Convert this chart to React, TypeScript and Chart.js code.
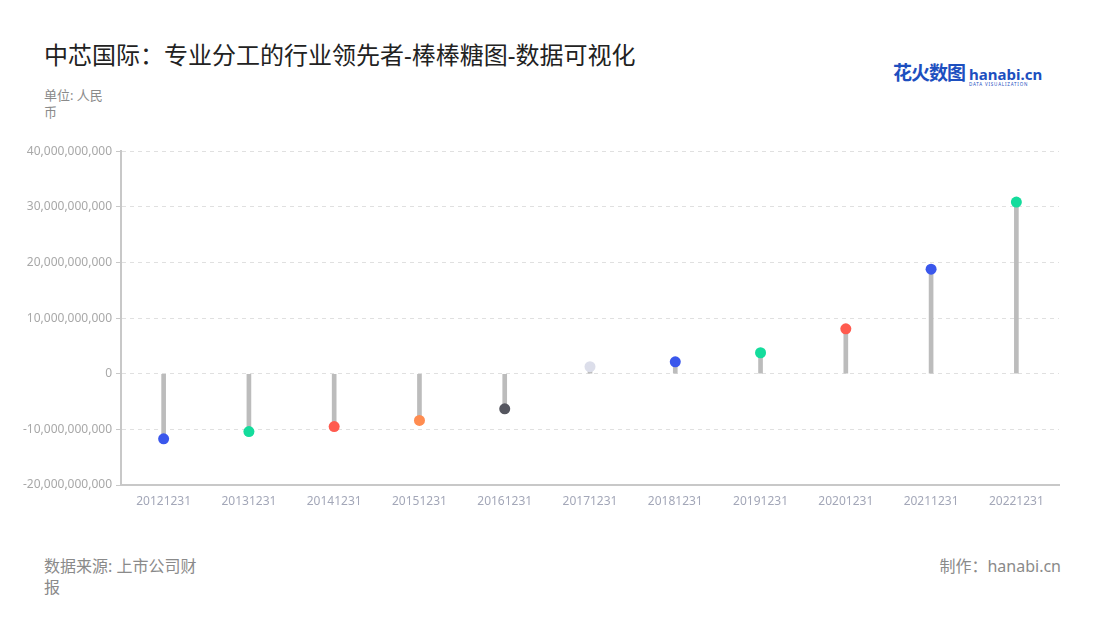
import React, { useEffect, useRef } from "react";
import { Chart, registerables } from "chart.js";

Chart.register(...registerables);

const categories = ["20121231", "20131231", "20141231", "20151231", "20161231", "20171231", "20181231", "20191231", "20201231", "20211231", "20221231"];
const values = [-11700000000, -10400000000, -9500000000, -8400000000, -6300000000, 1260000000, 2150000000, 3770000000, 8070000000, 18800000000, 30850000000];
const dotColors = ["#3a57ec", "#14dc9c", "#ff5b4f", "#ff8c50", "#55565f", "#dcdeea", "#3a57ec", "#14dc9c", "#ff5b4f", "#3a57ec", "#14dc9c"];
const yTicks = [-20000000000, -10000000000, 0, 10000000000, 20000000000, 30000000000, 40000000000];

const FONT = "'Noto Sans', 'Noto Sans CJK SC', sans-serif";

export default function App() {
  const ref = useRef<HTMLCanvasElement>(null);
  useEffect(() => {
    document.body.style.margin = "0";
    const ctx = ref.current!;
    const chart = new Chart(ctx, {
      type: "bar",
      data: {
        labels: categories,
        datasets: [
          {
            type: "line",
            data: values,
            showLine: false,
            pointRadius: 5.5,
            pointHoverRadius: 5.5,
            pointBorderWidth: 0,
            pointBackgroundColor: dotColors,
            pointBorderColor: dotColors,
            order: 0,
          } as any,
          {
            type: "bar",
            data: values,
            backgroundColor: "#bcbcbc",
            barThickness: 4,
            order: 1,
          },
        ],
      },
      options: {
        animation: false,
        responsive: false,
        maintainAspectRatio: false,
        layout: { padding: { top: 10, right: 41, bottom: 0, left: 0 } },
        plugins: { legend: { display: false }, tooltip: { enabled: false } },
        scales: {
          x: {
            offset: true,
            grid: { display: false, drawTicks: true, tickLength: 5, color: "#cccccc" } as any,
            border: { display: true, color: "#c8c8c8", width: 2 },
            ticks: { color: "#a3a7b8", font: { family: FONT, size: 12 }, padding: 4, maxRotation: 0, autoSkip: false },
            afterFit: (s: any) => { s.height = 35; },
          },
          y: {
            min: -20000000000,
            max: 40000000000,
            afterBuildTicks: (s: any) => { s.ticks = yTicks.map((v) => ({ value: v })); },
            grid: {
              color: "#e0e0e0",
              tickLength: 5,
              tickColor: "#c8c8c8",
              drawTicks: true,
            } as any,
            border: { display: true, color: "#c8c8c8", width: 2, dash: [4, 4] } as any,
            ticks: {
              color: "#a8a8a8",
              font: { family: FONT, size: 12 },
              padding: 4,
              callback: (v: any) => Number(v).toLocaleString("en-US"),
            },
            afterFit: (s: any) => { s.width = 121; },
          },
        },
      },
    });
    return () => chart.destroy();
  }, []);

  return (
    <div style={{ position: "relative", width: 1100, height: 620, background: "#fff", fontFamily: FONT, overflow: "hidden" }}>
      <div style={{ position: "absolute", left: 44, top: 38, fontSize: 24, lineHeight: "34px", color: "#222", whiteSpace: "nowrap" }}>
        中芯国际：专业分工的行业领先者-棒棒糖图-数据可视化
      </div>
      <div style={{ position: "absolute", left: 44, top: 87, width: 70, fontSize: 13, lineHeight: "17px", color: "#8a8a8a" }}>
        单位: 人民币
      </div>
      <div style={{ position: "absolute", left: 893, top: 58, display: "flex", alignItems: "flex-end", whiteSpace: "nowrap" }}>
        <span style={{ fontSize: 19, fontWeight: 700, color: "#1d4fbf", letterSpacing: -1 }}>花火数图</span>
        <span style={{ marginLeft: 4, display: "inline-flex", flexDirection: "column", lineHeight: 1 }}>
          <span style={{ fontSize: 15, fontWeight: 700, color: "#1d4fbf" }}>hanabi.cn</span>
          <span style={{ fontSize: 4.5, color: "#1d4fbf", letterSpacing: 0.8 }}>DATA VISUALIZATION</span>
        </span>
      </div>
      <canvas ref={ref} width={1100} height={380} style={{ position: "absolute", left: 0, top: 140, width: 1100, height: 380 }} />
      <div style={{ position: "absolute", left: 44, top: 556, width: 160, fontSize: 16, lineHeight: "21px", color: "#8a8a8a" }}>
        数据来源: 上市公司财报
      </div>
      <div style={{ position: "absolute", right: 39, top: 556, fontSize: 16, lineHeight: "21px", color: "#8a8a8a", whiteSpace: "nowrap" }}>
        制作：hanabi.cn
      </div>
    </div>
  );
}
